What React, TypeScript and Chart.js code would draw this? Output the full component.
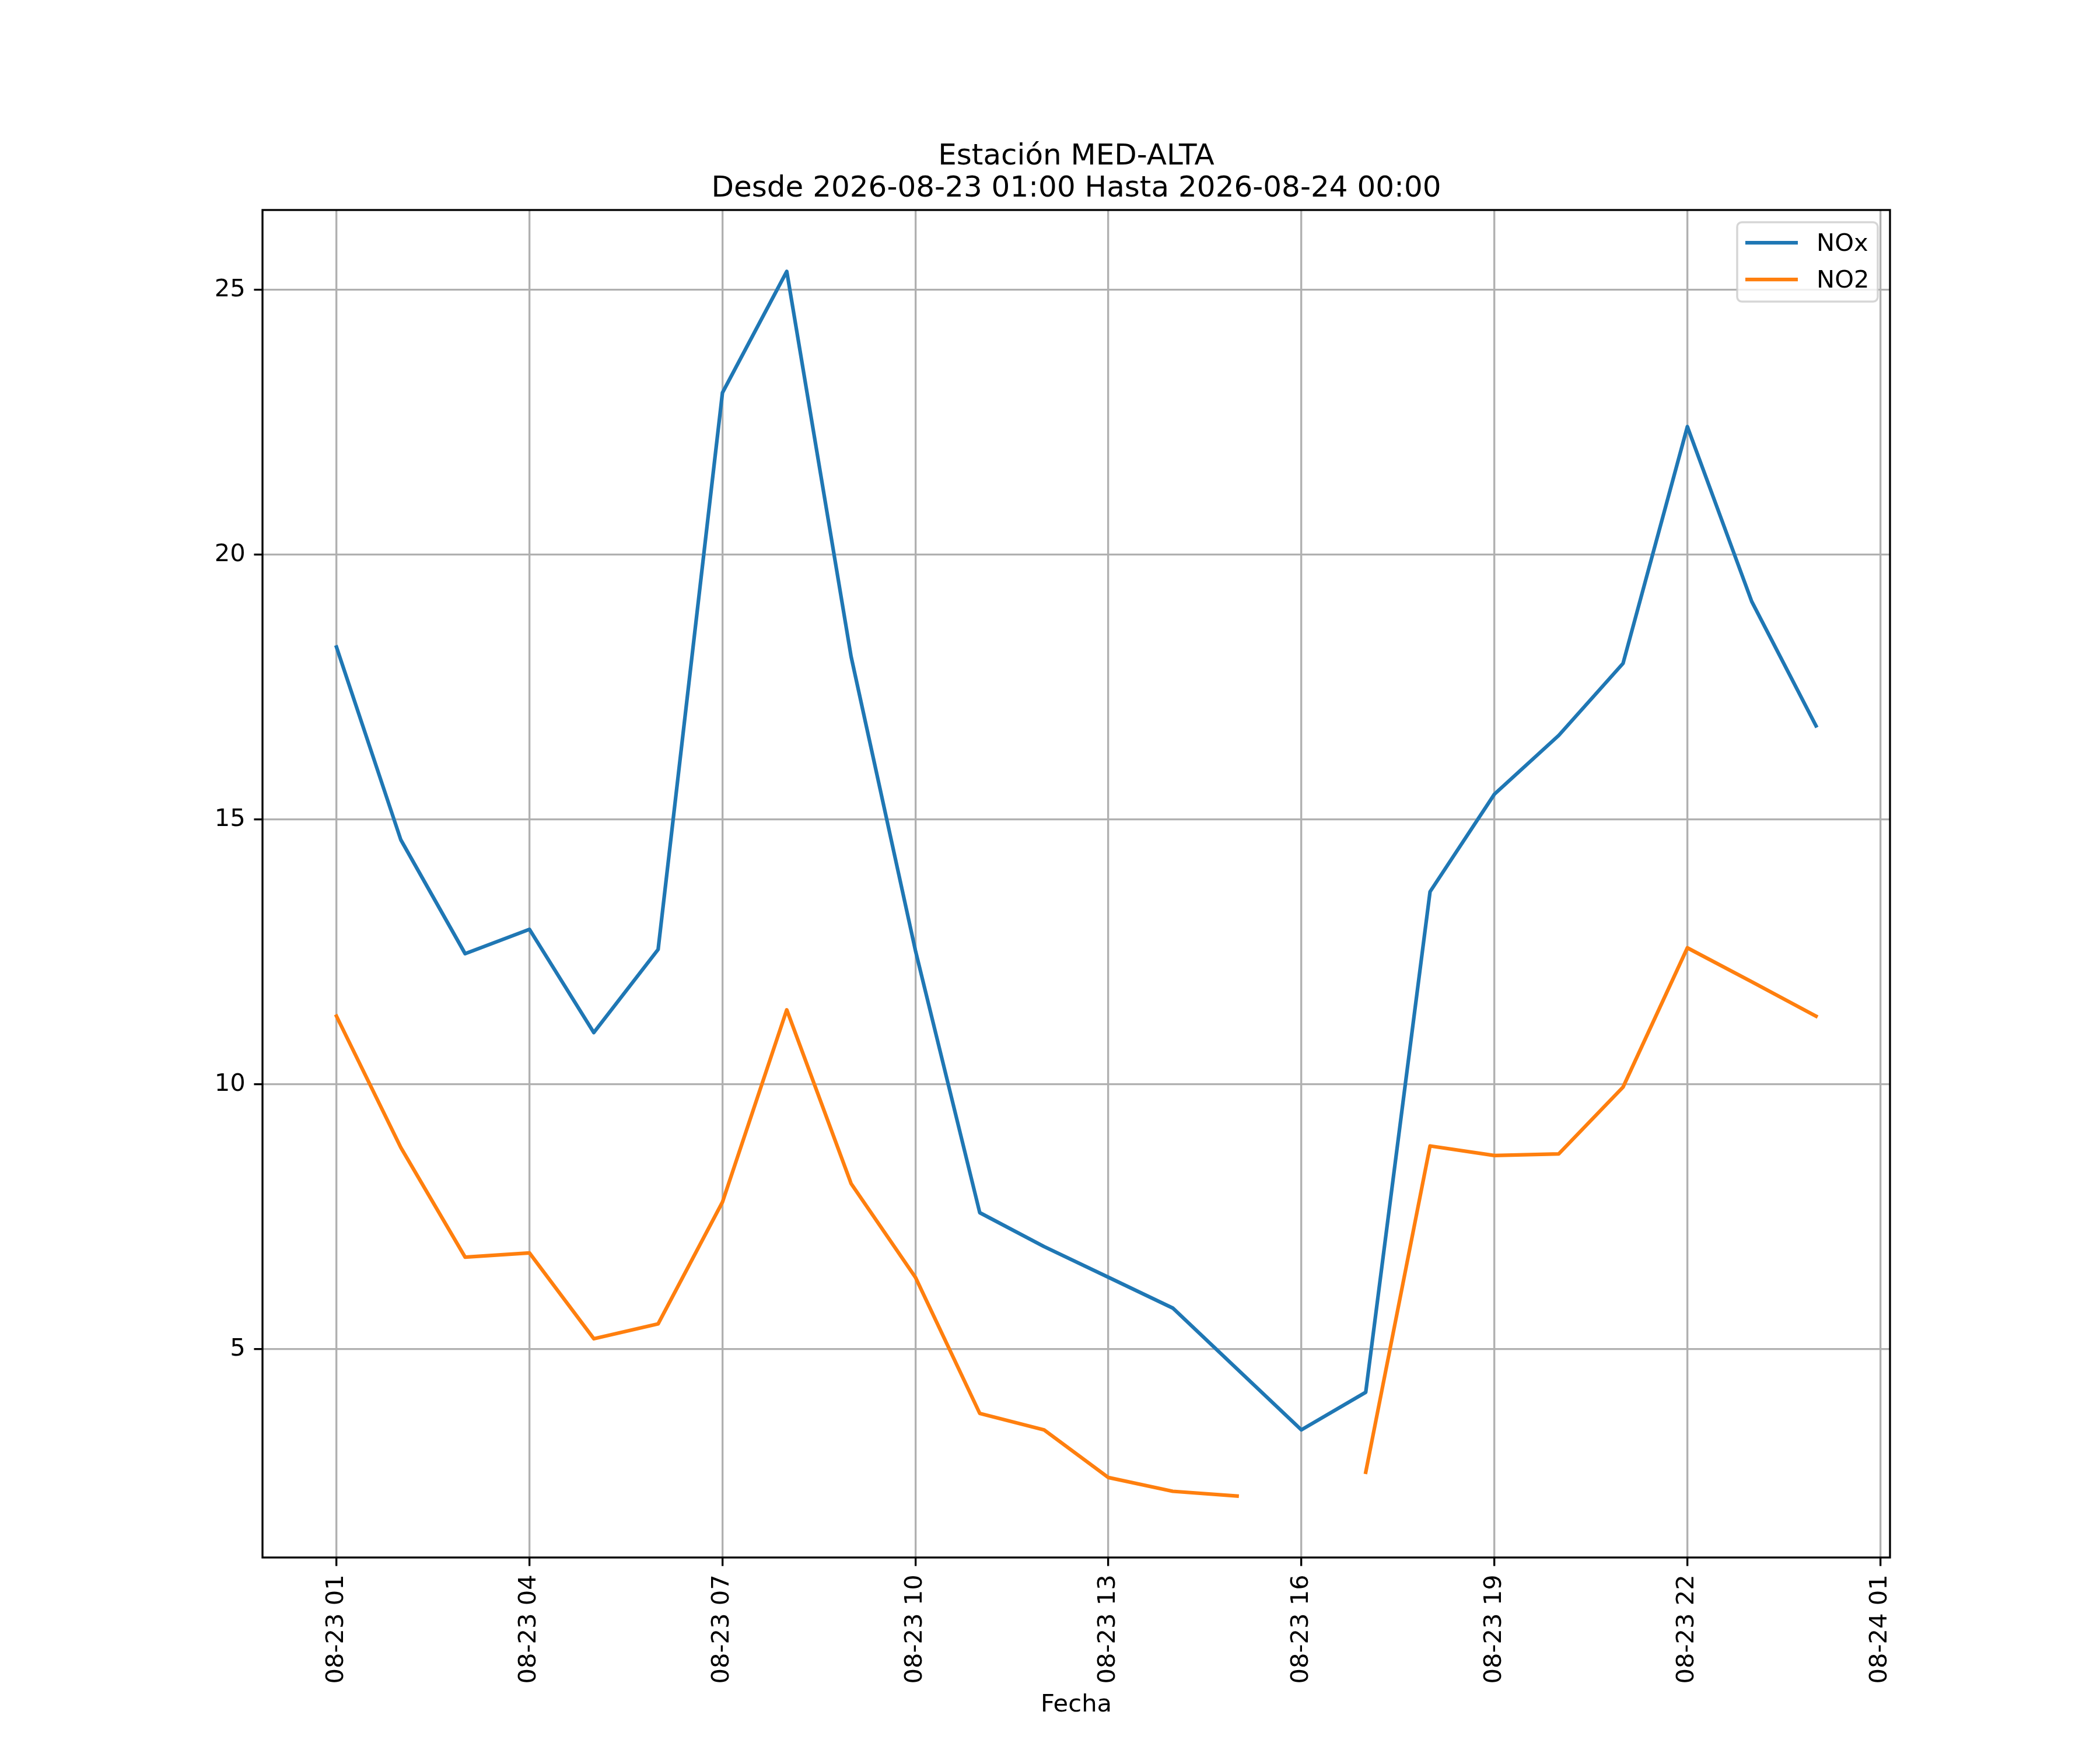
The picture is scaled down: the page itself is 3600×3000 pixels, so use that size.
import { useEffect, useRef } from 'react';
import { Chart, registerables } from 'chart.js';

Chart.register(...registerables);

// hours since 2026-08-23 00:00
const hours = [1, 2, 3, 4, 5, 6, 7, 8, 9, 10, 11, 12, 13, 14, 15, 16, 17, 18, 19, 20, 21, 22, 23, 24];
const noxValues = [
  18.26, 14.62, 12.47, 12.93, 10.98, 12.55, 23.06, 25.35, 18.08, 12.53, 7.58, 6.94,
  6.36, 5.78, 4.63, 3.48, 4.19, 13.64, 15.48, 16.59, 17.95, 22.42, 19.12, 16.77,
];
const no2Values = [
  11.29, 8.81, 6.74, 6.82, 5.2, 5.48, 7.78, 11.41, 8.13, 6.36, 3.79, 3.48,
  2.58, 2.32, 2.23, null, 2.68, 8.84, 8.66, 8.69, 9.95, 12.58, 11.94, 11.29,
];
const xTickValues = [1, 4, 7, 10, 13, 16, 19, 22, 25];
const xTickLabels = ['08-23 01', '08-23 04', '08-23 07', '08-23 10', '08-23 13', '08-23 16', '08-23 19', '08-23 22', '08-24 01'];
const yTickValues = [5, 10, 15, 20, 25];

const FONT = 'DejaVu Sans';
const PT = 300 / 72; // figure was 300 dpi

const framePlugin = {
  id: 'frame',
  afterDatasetsDraw(chart: any) {
    const { ctx, chartArea } = chart;
    const { left, top, right, bottom } = chartArea;
    ctx.save();
    ctx.strokeStyle = '#000';
    ctx.lineWidth = 0.8 * PT;
    ctx.strokeRect(left, top, right - left, bottom - top);
    ctx.restore();
  },
};

const legendPlugin = {
  id: 'boxLegend',
  afterDraw(chart: any) {
    const { ctx, chartArea } = chart;
    const w = 241;
    const h = 136;
    const x0 = chartArea.right - 21 - w;
    const y0 = chartArea.top + 21;
    ctx.save();
    ctx.beginPath();
    ctx.roundRect(x0, y0, w, h, 8);
    ctx.fillStyle = 'rgba(255,255,255,0.8)';
    ctx.fill();
    ctx.strokeStyle = 'rgba(204,204,204,0.8)';
    ctx.lineWidth = 3.5;
    ctx.stroke();
    chart.data.datasets.forEach((ds: any, i: number) => {
      const y = y0 + 35 + i * 63;
      ctx.beginPath();
      ctx.moveTo(x0 + 14, y);
      ctx.lineTo(x0 + 104, y);
      ctx.strokeStyle = ds.borderColor;
      ctx.lineWidth = 1.5 * PT;
      ctx.lineCap = 'butt';
      ctx.stroke();
      ctx.fillStyle = '#000';
      ctx.font = `${10 * PT}px "${FONT}"`;
      ctx.textBaseline = 'alphabetic';
      ctx.textAlign = 'left';
      ctx.fillText(ds.label, x0 + 136, y + 14);
    });
    ctx.restore();
  },
};

export default function App() {
  const canvasRef = useRef<HTMLCanvasElement>(null);
  const chartRef = useRef<Chart | null>(null);

  useEffect(() => {
    document.body.style.margin = '0';
    if (!canvasRef.current) return;

    const tickFont = { family: FONT, size: 10 * PT };

    chartRef.current = new Chart(canvasRef.current, {
      type: 'line',
      data: {
        datasets: [
          {
            label: 'NOx',
            data: hours.map((h, i) => ({ x: h, y: noxValues[i] })),
            borderColor: '#1f77b4',
            backgroundColor: '#1f77b4',
            borderWidth: 1.5 * PT,
            pointRadius: 0,
            tension: 0,
            fill: false,
            borderJoinStyle: 'round',
            borderCapStyle: 'square',
          },
          {
            label: 'NO2',
            data: hours.map((h, i) => ({ x: h, y: no2Values[i] })),
            borderColor: '#ff7f0e',
            backgroundColor: '#ff7f0e',
            borderWidth: 1.5 * PT,
            pointRadius: 0,
            tension: 0,
            fill: false,
            spanGaps: false,
            borderJoinStyle: 'round',
            borderCapStyle: 'square',
          },
        ],
      },
      options: {
        responsive: false,
        animation: false,
        devicePixelRatio: 1,
        layout: { padding: { left: 0, top: 0, right: 360, bottom: 0 } },
        plugins: {
          legend: { display: false },
          tooltip: { enabled: false },
          title: {
            display: true,
            fullSize: false,
            text: ['Estación MED-ALTA', 'Desde 2026-08-23 01:00 Hasta 2026-08-24 00:00'],
            color: '#000',
            font: { family: FONT, size: 12 * PT, weight: 'normal', lineHeight: 1.1 },
            padding: { top: 242, bottom: 8 },
          },
        },
        scales: {
          x: {
            type: 'linear',
            min: -0.15,
            max: 25.15,
            afterBuildTicks: (axis: any) => {
              axis.ticks = xTickValues.map((v) => ({ value: v }));
            },
            afterFit: (scale: any) => {
              scale.height = 330;
            },
            ticks: {
              autoSkip: false,
              minRotation: 90,
              maxRotation: 90,
              color: '#000',
              font: tickFont,
              padding: 3.5 * PT,
              callback: (_v: any, i: number) => xTickLabels[i],
            },
            grid: {
              color: '#b0b0b0',
              lineWidth: 0.8 * PT,
              tickLength: 3.5 * PT,
              tickColor: '#000',
              tickWidth: 0.8 * PT,
            },
            border: { display: false },
            title: {
              display: true,
              text: 'Fecha',
              color: '#000',
              font: { family: FONT, size: 10 * PT, lineHeight: 1.2 },
              padding: { top: 0, bottom: 52 },
            },
          },
          y: {
            type: 'linear',
            min: 1.07,
            max: 26.51,
            afterBuildTicks: (axis: any) => {
              axis.ticks = yTickValues.map((v) => ({ value: v }));
            },
            afterFit: (scale: any) => {
              scale.width = 450;
            },
            ticks: {
              color: '#000',
              font: tickFont,
              padding: 3.5 * PT,
              callback: (v: any) => String(v),
            },
            grid: {
              color: '#b0b0b0',
              lineWidth: 0.8 * PT,
              tickLength: 3.5 * PT,
              tickColor: '#000',
              tickWidth: 0.8 * PT,
            },
            border: { display: false },
          },
        },
      },
      plugins: [framePlugin, legendPlugin],
    } as any);

    return () => {
      chartRef.current?.destroy();
    };
  }, []);

  return (
    <div style={{ width: 3600, height: 3000, background: '#fff' }}>
      <canvas ref={canvasRef} width={3600} height={3000} style={{ display: 'block' }} />
    </div>
  );
}
